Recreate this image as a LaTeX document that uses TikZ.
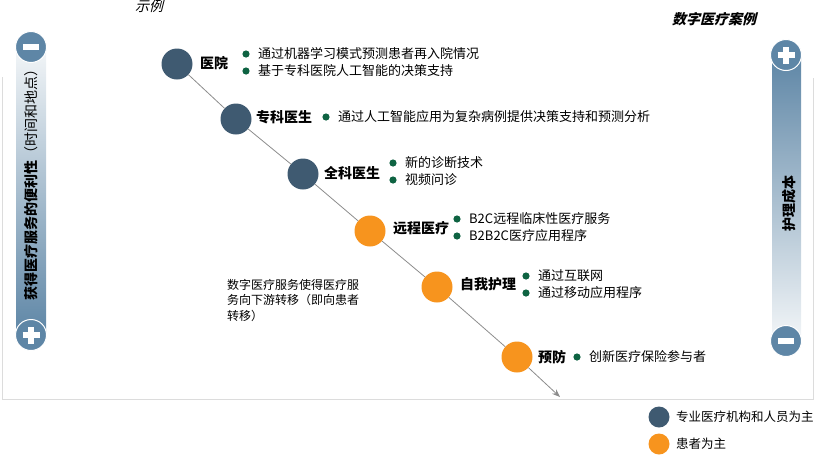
\documentclass[tikz,border=0pt]{standalone}
\usepackage{fontspec}
\setmainfont{Noto Sans CJK SC}
\newfontfamily\slantfont[FakeSlant=0.25]{Noto Sans CJK SC}
\usetikzlibrary{arrows.meta}

\definecolor{staffblue}{HTML}{3F5A71}
\definecolor{patientorange}{HTML}{F7941E}
\definecolor{bulletgreen}{HTML}{0E6342}
\definecolor{barblue}{HTML}{5E86A6}
\definecolor{barlight}{HTML}{F3F6F8}
\definecolor{framegray}{HTML}{DCDCDC}
\definecolor{flowgray}{HTML}{8C8C8C}

\tikzset{
  stage/.style={circle,minimum size=31pt,inner sep=0pt},
  staff/.style={stage,fill=staffblue},
  patient/.style={stage,fill=patientorange},
  stagename/.style={anchor=west,inner sep=0pt,font=\fontsize{14}{16}\selectfont\bfseries},
  itemtext/.style={anchor=west,inner sep=0pt,font=\fontsize{13}{15}\selectfont},
  flow/.style={flowgray,line width=0.8pt},
  signdot/.style={circle,fill=barblue,draw=white,line width=1pt,minimum size=31pt,inner sep=0pt},
  signbar/.style={white,line width=5.5pt},
  axistext/.style={rotate=90,inner sep=0pt},
  keydot/.style={circle,minimum size=21pt,inner sep=0pt}
}

\newcommand{\bulletline}[4]{%
  \fill[bulletgreen] (#2,#3) circle (3.6);
  \node[itemtext] (#1) at (#2+12,#3) {#4};}

\begin{document}
\begin{tikzpicture}[x=1pt,y=-1pt]
  \useasboundingbox (0,0) rectangle (831,472);

  % frame
  \draw[framegray,line width=0.8pt] (2,77) -- (2,399) -- (813,399) -- (813,78);

  \node[inner sep=0pt] (example) at (149,6) {\slantfont\fontsize{14}{16}\selectfont 示例};
  \node[inner sep=0pt] (cases) at (714,19) {\slantfont\fontsize{14}{16}\selectfont\bfseries 数字医疗案例};

  % left axis
  \shade[top color=barlight,bottom color=barblue] (16,47) rectangle (46,335);
  \node[signdot] (accesslow) at (31,47) {};
  \node[signdot] (accesshigh) at (31,335) {};
  \draw[signbar] ([xshift=-8pt]accesslow.center) -- ([xshift=8pt]accesslow.center);
  \draw[signbar] ([xshift=-8.5pt]accesshigh.center) -- ([xshift=8.5pt]accesshigh.center);
  \draw[signbar] ([yshift=-8.5pt]accesshigh.center) -- ([yshift=8.5pt]accesshigh.center);
  \node[axistext] (access) at (31,181)
    {{\fontsize{14}{16}\selectfont\bfseries 获得医疗服务的便利性}{\fontsize{14}{16}\selectfont（时间和地点）}};

  % right axis
  \shade[top color=barblue,bottom color=barlight] (772,55) rectangle (801,341);
  \node[signdot] (costhigh) at (786,55) {};
  \node[signdot] (costlow) at (786,341) {};
  \draw[signbar] ([xshift=-8.5pt]costhigh.center) -- ([xshift=8.5pt]costhigh.center);
  \draw[signbar] ([yshift=-8.5pt]costhigh.center) -- ([yshift=8.5pt]costhigh.center);
  \draw[signbar] ([xshift=-8pt]costlow.center) -- ([xshift=8pt]costlow.center);
  \node[axistext] (cost) at (789,203) {\fontsize{14}{16}\selectfont\bfseries 护理成本};

  % stages
  \node[staff] (hospital) at (177,64) {};
  \node[staff] (specialist) at (236,119) {};
  \node[staff] (gp) at (303,174) {};
  \node[patient] (telehealth) at (370,231) {};
  \node[patient] (selfcare) at (437,287) {};
  \node[patient] (prevention) at (517,357) {};
  \coordinate (tip) at (560,397);

  \draw[flow] (hospital) -- (specialist);
  \draw[flow] (specialist) -- (gp);
  \draw[flow] (gp) -- (telehealth);
  \draw[flow] (telehealth) -- (selfcare);
  \draw[flow] (selfcare) -- (prevention);
  \draw[flow,-{Stealth[length=8pt,width=6pt]}] (prevention) -- (tip);

  \node[stagename] (hospitalname) at (200,63) {医院};
  \node[stagename] (specialistname) at (256,117) {专科医生};
  \node[stagename] (gpname) at (324,173) {全科医生};
  \node[stagename] (telehealthname) at (393,228) {远程医疗};
  \node[stagename] (selfcarename) at (460,284) {自我护理};
  \node[stagename] (preventionname) at (538,357) {预防};

  \bulletline{readmit}{246}{54}{通过机器学习模式预测患者再入院情况}
  \bulletline{decision}{246}{71}{基于专科医院人工智能的决策支持}
  \bulletline{complex}{326}{117}{通过人工智能应用为复杂病例提供决策支持和预测分析}
  \bulletline{diagnose}{393}{163}{新的诊断技术}
  \bulletline{video}{393}{180}{视频问诊}
  \bulletline{btoc}{457}{219}{B2C远程临床性医疗服务}
  \bulletline{btobtoc}{457}{236}{B2B2C医疗应用程序}
  \bulletline{internet}{526}{276}{通过互联网}
  \bulletline{mobile}{526}{293}{通过移动应用程序}
  \bulletline{insurer}{577}{357}{创新医疗保险参与者}

  \node[anchor=west,align=left,inner sep=0pt,font=\fontsize{12}{15.5}\selectfont] (shift) at (227,300)
    {数字医疗服务使得医疗服\\务向下游转移（即向患者\\转移）};

  % legend
  \node[keydot,fill=staffblue] (keystaff) at (659,417) {};
  \node[keydot,fill=patientorange] (keypatient) at (659,444) {};
  \node[anchor=west,inner sep=0pt,font=\fontsize{12.5}{15}\selectfont] (keystafftext) at (676,417) {专业医疗机构和人员为主};
  \node[anchor=west,inner sep=0pt,font=\fontsize{12.5}{15}\selectfont] (keypatienttext) at (676,444) {患者为主};
\end{tikzpicture}
\end{document}
